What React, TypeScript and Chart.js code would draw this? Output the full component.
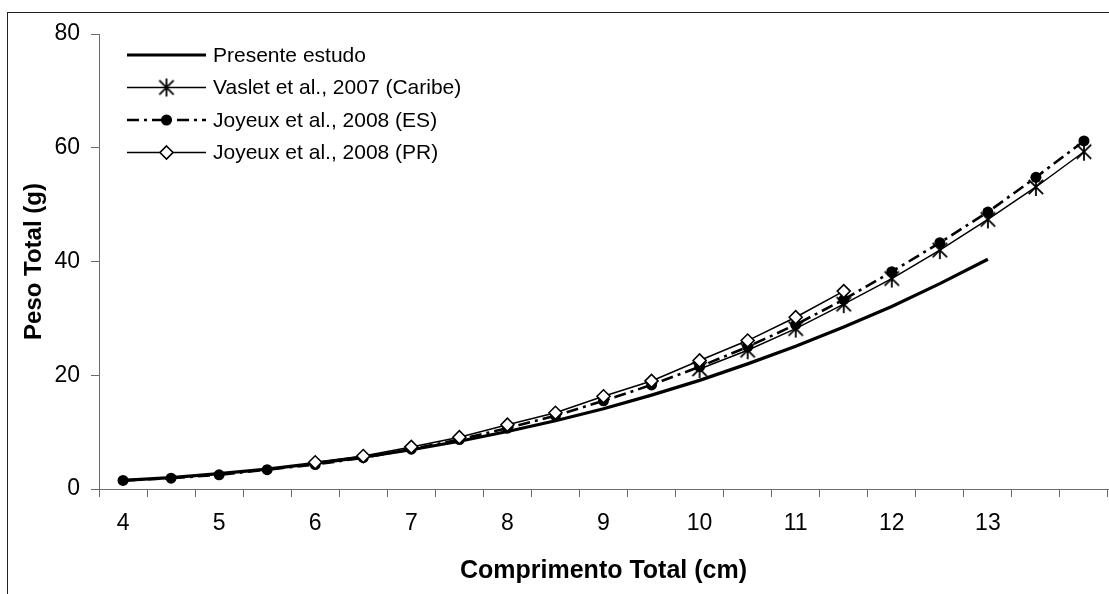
import React, { useEffect, useRef } from 'react';
import { Chart, registerables } from 'chart.js';

Chart.register(...registerables);

// ---- Data ----
const categories = ['4', '4.5', '5', '5.5', '6', '6.5', '7', '7.5', '8', '8.5', '9', '9.5', '10', '10.5', '11', '11.5', '12', '12.5', '13', '13.5', '14'];
const tickLabels = ['4', '', '5', '', '6', '', '7', '', '8', '', '9', '', '10', '', '11', '', '12', '', '13', '', ''];

const presenteEstudo = [1.5, 2.0, 2.7, 3.5, 4.5, 5.6, 6.9, 8.4, 10.1, 12.0, 14.1, 16.5, 19.1, 22.0, 25.1, 28.5, 32.1, 36.1, 40.4, null, null];
const vaslet2007 = [null, null, null, null, null, null, null, null, null, null, null, null, 21.1, 24.4, 28.2, 32.5, 37.0, 42.0, 47.4, 53.1, 59.3];
const joyeuxES = [1.5, 1.9, 2.5, 3.4, 4.3, 5.5, 7.0, 8.7, 10.7, 12.9, 15.5, 18.3, 21.5, 25.0, 28.9, 33.3, 38.2, 43.3, 48.7, 54.8, 61.2];
const joyeuxPR = [null, null, null, null, 4.7, 5.8, 7.4, 9.1, 11.3, 13.4, 16.3, 19.0, 22.6, 26.1, 30.2, 34.8, null, null, null, null, null];

const seriesLabels = ['Presente estudo', 'Vaslet et al., 2007 (Caribe)', 'Joyeux et al., 2008 (ES)', 'Joyeux et al., 2008 (PR)'];

const FONT = "'Liberation Sans', Arial, sans-serif";

function makeAsterisk(size: number, lw: number): HTMLCanvasElement {
  const c = document.createElement('canvas');
  c.width = size;
  c.height = size;
  const g = c.getContext('2d')!;
  g.strokeStyle = '#000';
  g.lineWidth = lw;
  const m = size / 2;
  const r = size / 2 - 1;
  const d = r * 0.8;
  g.beginPath();
  g.moveTo(m, m - r);
  g.lineTo(m, m + r);
  g.moveTo(m - d, m - d);
  g.lineTo(m + d, m + d);
  g.moveTo(m + d, m - d);
  g.lineTo(m - d, m + d);
  g.stroke();
  return c;
}

const legendPlugin = {
  id: 'insideLegend',
  afterDraw(chart: any) {
    const ctx = chart.ctx as CanvasRenderingContext2D;
    const y0 = 55;
    const dy = 32.5;
    ctx.save();
    chart.data.datasets.forEach((ds: any, i: number) => {
      const y = y0 + i * dy;
      ctx.strokeStyle = '#000';
      ctx.lineWidth = ds.borderWidth;
      ctx.setLineDash(ds.borderDash || []);
      ctx.beginPath();
      ctx.moveTo(127, y);
      ctx.lineTo(206, y);
      ctx.stroke();
      ctx.setLineDash([]);
      const cx = 166.5;
      const ps = ds.pointStyle;
      if (ps && typeof ps === 'object') {
        ctx.drawImage(ps, cx - ps.width / 2, y - ps.height / 2);
      } else if (ps === 'circle' && ds.pointRadius > 0) {
        ctx.beginPath();
        ctx.arc(cx, y, ds.pointRadius, 0, Math.PI * 2);
        ctx.fillStyle = ds.pointBackgroundColor;
        ctx.fill();
      } else if (ps === 'rectRot' && ds.pointRadius > 0) {
        const r = ds.pointRadius;
        ctx.beginPath();
        ctx.moveTo(cx, y - r);
        ctx.lineTo(cx + r, y);
        ctx.lineTo(cx, y + r);
        ctx.lineTo(cx - r, y);
        ctx.closePath();
        ctx.fillStyle = ds.pointBackgroundColor;
        ctx.fill();
        ctx.lineWidth = ds.pointBorderWidth;
        ctx.strokeStyle = ds.pointBorderColor;
        ctx.stroke();
      }
      ctx.fillStyle = '#000';
      ctx.font = `21px ${FONT}`;
      ctx.textBaseline = 'middle';
      ctx.textAlign = 'left';
      ctx.fillText(ds.label, 213, y + 1);
    });
    ctx.restore();
  },
};

export default function App() {
  const canvasRef = useRef<HTMLCanvasElement | null>(null);

  useEffect(() => {
    const canvas = canvasRef.current;
    if (!canvas) return;
    const asterisk = makeAsterisk(20, 1.8);
    const axisColor = '#6b6b6b';
    const chart = new Chart(canvas, {
      type: 'line',
      data: {
        labels: categories,
        datasets: [
          {
            label: seriesLabels[0],
            data: presenteEstudo,
            borderColor: '#000',
            borderWidth: 3.2,
            pointRadius: 0,
            pointStyle: false as any,
            tension: 0,
            order: 3,
          },
          {
            label: seriesLabels[1],
            data: vaslet2007,
            borderColor: '#000',
            borderWidth: 1.5,
            pointStyle: asterisk as any,
            pointRadius: 10,
            tension: 0,
            order: 2,
          },
          {
            label: seriesLabels[2],
            data: joyeuxES,
            borderColor: '#000',
            borderWidth: 2.6,
            borderDash: [12, 5, 3, 5],
            pointStyle: 'circle',
            pointRadius: 5.5,
            pointBackgroundColor: '#000',
            pointBorderColor: '#000',
            pointBorderWidth: 0,
            tension: 0,
            order: 1,
          },
          {
            label: seriesLabels[3],
            data: joyeuxPR,
            borderColor: '#000',
            borderWidth: 1.5,
            pointStyle: 'rectRot',
            pointRadius: 6.5,
            pointBackgroundColor: '#fff',
            pointBorderColor: '#000',
            pointBorderWidth: 1.6,
            tension: 0,
            order: 0,
          },
        ] as any,
      },
      options: {
        responsive: false,
        animation: false,
        devicePixelRatio: 1,
        layout: { autoPadding: false, padding: { left: 0, right: 1, top: 34, bottom: 0 } },
        plugins: {
          legend: { display: false },
          tooltip: { enabled: false },
        },
        scales: {
          x: {
            type: 'category',
            offset: true,
            grid: {
              offset: true,
              drawOnChartArea: false,
              drawTicks: true,
              tickLength: 8,
              tickColor: axisColor,
              tickWidth: 1,
            },
            border: { display: true, color: axisColor, width: 1 },
            ticks: {
              autoSkip: false,
              maxRotation: 0,
              color: '#000',
              font: { family: FONT, size: 23 },
              padding: 13,
              callback: (_v: any, i: number) => tickLabels[i],
            },
            title: {
              display: true,
              text: 'Comprimento Total (cm)',
              color: '#000',
              font: { family: FONT, size: 25, weight: 'bold' },
              padding: { top: 0, bottom: 8 },
            },
            afterFit: (scale: any) => {
              scale.height = 105;
            },
          },
          y: {
            min: 0,
            max: 80,
            grid: {
              drawOnChartArea: false,
              drawTicks: true,
              tickLength: 8,
              tickColor: axisColor,
              tickWidth: 1,
            },
            border: { display: true, color: axisColor, width: 1 },
            ticks: {
              stepSize: 20,
              color: '#000',
              font: { family: FONT, size: 23 },
              padding: 11,
            },
            title: {
              display: true,
              text: 'Peso Total (g)',
              color: '#000',
              font: { family: FONT, size: 24, weight: 'bold' },
              padding: { top: 19.6, bottom: 0 },
            },
            afterFit: (scale: any) => {
              scale.width = 99;
            },
          },
        },
      } as any,
      plugins: [legendPlugin],
    });
    return () => chart.destroy();
  }, []);

  return (
    <div style={{ position: 'fixed', left: 0, top: 0, width: 1109, height: 594, overflow: 'hidden', background: '#fff' }}>
      <div
        style={{
          position: 'absolute',
          left: 7,
          top: 12,
          width: 1200,
          height: 700,
          borderLeft: '1.5px solid #222',
          borderTop: '1.5px solid #222',
        }}
      />
      <canvas ref={canvasRef} width={1109} height={594} style={{ position: 'absolute', left: 0, top: 0, width: 1109, height: 594 }} />
    </div>
  );
}
